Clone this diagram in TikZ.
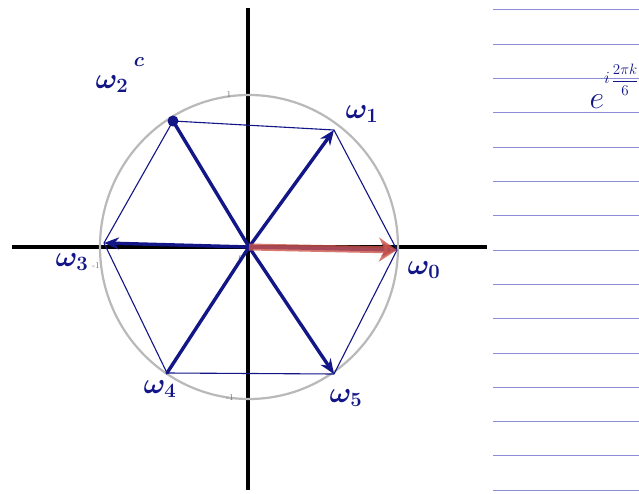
\RequirePackage{fix-cm}
\documentclass[tikz,border=0pt]{standalone}
\usepackage{bm}
\usetikzlibrary{arrows.meta}
\definecolor{ink}{RGB}{18,22,135}
\definecolor{rule}{RGB}{140,140,215}
\definecolor{redink}{RGB}{205,85,75}
\tikzset{
  axis/.style={line width=4pt,black},
  spoke/.style={line width=3.4pt,ink,line cap=round},
  spokearrow/.style={spoke,-{Stealth[length=15pt,width=12pt]}},
  hexedge/.style={line width=1.1pt,ink},
  wlabel/.style={ink,font=\fontsize{29}{29}\selectfont,inner sep=1pt},
  ticklbl/.style={black!55,font=\small,inner sep=1pt},
  ruleline/.style={rule,line width=1pt}
}
\begin{document}
\begin{tikzpicture}[x=1pt,y=-1pt]
\useasboundingbox (0,0) rectangle (639,494);
\fill[white] (0,0) rectangle (639,494);
% notebook lines
\foreach \k in {0,...,14} {
  \coordinate (ra\k) at (493,{10+34.3*\k});
  \coordinate (rb\k) at (639,{10+34.3*\k});
  \draw[ruleline] (ra\k) -- (rb\k);
}
% axes
\coordinate (xl) at (12,247);
\coordinate (xr) at (487,247);
\coordinate (yt) at (248,8);
\coordinate (yb) at (248,490);
\coordinate (O) at (249,247);
\draw[axis] (xl) -- (xr);
\draw[axis] (yt) -- (yb);
% unit circle
\draw[gray!55,line width=2.2pt] (O) ellipse (149 and 152);
% tick labels
\node[ticklbl] (t1) at (229,95) {1};
\node[ticklbl] (tm1) at (96,266) {-1};
\node[ticklbl] (tb) at (230,398) {-1};
\node[ticklbl] (t0) at (241,259) {0};
% vertices
\coordinate (w0) at (397,250);
\coordinate (w1) at (334,130);
\coordinate (w2) at (173,121);
\coordinate (w3) at (104,243);
\coordinate (w4) at (167,373);
\coordinate (w5) at (334,374);
% hexagon
\draw[hexedge] (w0) -- (w1) -- (w2) -- (w3) -- (w4) -- (w5) -- cycle;
% spokes
\draw[spokearrow] (O) -- (w1);
\draw[spoke] (O) -- (w2);
\fill[ink] (w2) circle (5.5);
\draw[spokearrow] (O) -- (w3);
\draw[spoke] (O) -- (w4);
\draw[spokearrow] (O) -- (w5);
\draw[spokearrow] (O) -- (w0);
% red arrow
\draw[redink,opacity=0.8,line width=7pt,-{Stealth[length=18pt,width=24pt]}] (O) -- (w0);
% labels
\node[wlabel] (l0) at (424,270) {$\bm{\omega}_{\bm 0}$};
\node[wlabel] (l1) at (362,114) {$\bm{\omega}_{\bm 1}$};
\node[wlabel] (l2) at (112,84) {$\bm{\omega}_{\bm 2}$};
\node[ink,font=\fontsize{20}{20}\selectfont,inner sep=1pt] (l2c) at (139,62) {$\bm{c}$};
\node[wlabel] (l3) at (72,262) {$\bm{\omega}_{\bm 3}$};
\node[wlabel] (l4) at (160,389) {$\bm{\omega}_{\bm 4}$};
\node[wlabel] (l5) at (346,398) {$\bm{\omega}_{\bm 5}$};
% formula
\node[ink,font=\fontsize{32}{32}\selectfont,inner sep=1pt] (ee) at (597,102) {$e$};
\node[ink,font=\fontsize{17}{17}\selectfont,inner sep=1pt] (ei) at (607,78) {$i$};
\node[ink,font=\fontsize{15}{15}\selectfont,anchor=west,inner sep=0.5pt] (ef) at (611,80) {$\displaystyle\frac{2\pi k}{6}$};
\end{tikzpicture}
\end{document}
